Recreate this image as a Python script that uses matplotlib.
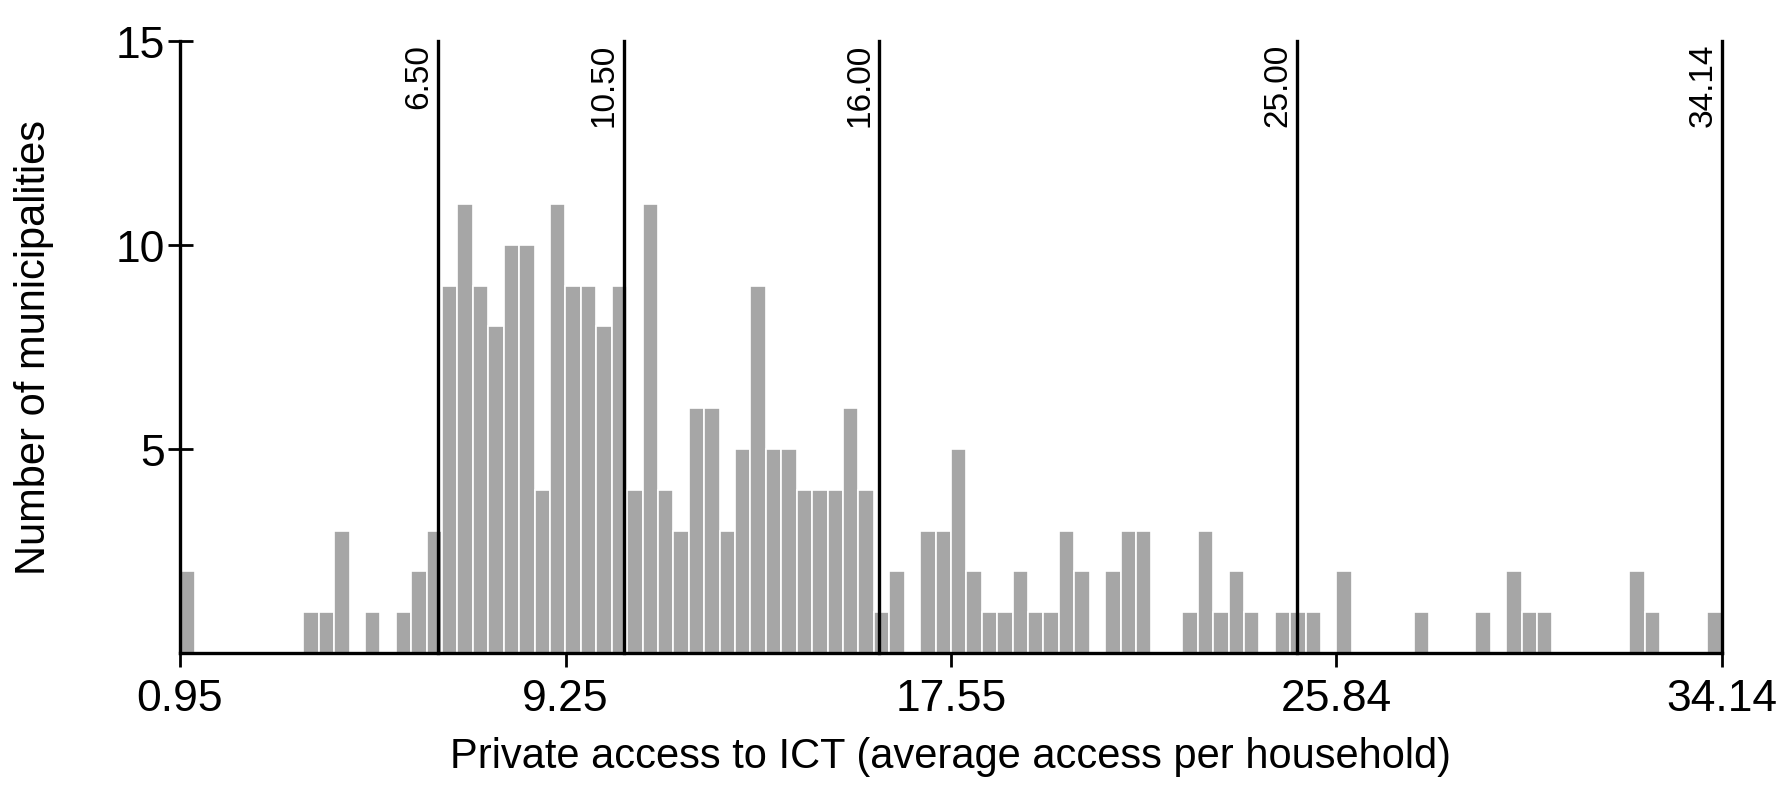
import numpy as np
import matplotlib
matplotlib.use("Agg")
import matplotlib.pyplot as plt

plt.rcParams['font.family'] = ['Liberation Sans', 'DejaVu Sans']

# histogram: 100 equal bins between the min and max value
x_min = 0.95
x_max = 34.14
counts = [2, 0, 0, 0, 0, 0, 0, 0, 1, 1,
          3, 0, 1, 0, 1, 2, 3, 9, 11, 9,
          8, 10, 10, 4, 11, 9, 9, 8, 9, 4,
          11, 4, 3, 6, 6, 3, 5, 9, 5, 5,
          4, 4, 4, 6, 4, 1, 2, 0, 3, 3,
          5, 2, 1, 1, 2, 1, 1, 3, 2, 0,
          2, 3, 3, 0, 0, 1, 3, 1, 2, 1,
          0, 1, 1, 1, 0, 2, 0, 0, 0, 0,
          1, 0, 0, 0, 1, 0, 2, 1, 1, 0,
          0, 0, 0, 0, 2, 1, 0, 0, 0, 1]

# class breaks (vertical lines)
breaks = [6.50, 10.50, 16.00, 25.00, 34.14]
break_labels = ["6.50", "10.50", "16.00", "25.00", "34.14"]

x_ticks = [0.95, 9.25, 17.55, 25.84, 34.14]
x_tick_labels = ["0.95", "9.25", "17.55", "25.84", "34.14"]
y_ticks = [5, 10, 15]

edges = np.linspace(x_min, x_max, len(counts) + 1)

fig = plt.figure(figsize=(17.85, 8.12), dpi=100)
ax = fig.add_axes([0.1008, 0.1946, 0.8639, 0.754])

ax.bar(edges[:-1], counts, width=np.diff(edges), align='edge',
       color='#a6a6a6', edgecolor='white', linewidth=1.2, zorder=2)

for b, lab in zip(breaks, break_labels):
    ax.axvline(b, color='black', linewidth=2.4, zorder=3, clip_on=False)
    ax.text(b - 0.08, 14.95, lab, rotation=90, ha='right', va='top',
            fontsize=24, zorder=4)

ax.set_xlim(x_min, x_max)
ax.set_ylim(0, 15)

for s in ['top', 'right']:
    ax.spines[s].set_visible(False)
for s in ['left', 'bottom']:
    ax.spines[s].set_linewidth(2.4)
    ax.spines[s].set_color('black')

ax.set_xticks(x_ticks)
ax.set_xticklabels(x_tick_labels)
ax.set_yticks(y_ticks)
ax.set_yticklabels([str(v) for v in y_ticks])
ax.tick_params(axis='y', direction='inout', length=18, width=2, labelsize=32, pad=2)
ax.tick_params(axis='x', direction='out', length=10, width=2, labelsize=32, pad=8)

ax.set_xlabel("Private access to ICT (average access per household)", fontsize=30, labelpad=12)
ax.set_ylabel("Number of municipalities", fontsize=30, labelpad=44)

fig.savefig("out.png", dpi=100)
